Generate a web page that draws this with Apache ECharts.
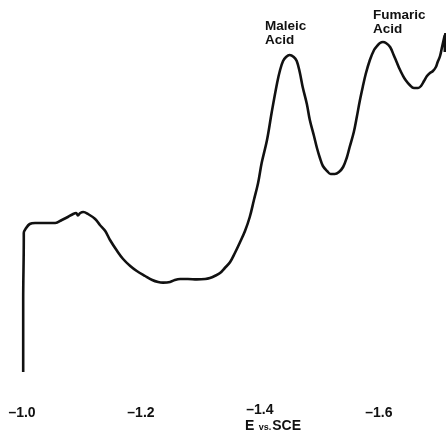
<!DOCTYPE html>
<html>
<head>
<meta charset="utf-8">
<script src="https://cdn.jsdelivr.net/npm/echarts@6/dist/echarts.min.js"></script>
<style>
  html, body { margin: 0; padding: 0; background: #fff; }
  #chart { width: 446px; height: 435px; }
</style>
</head>
<body>
<div id="chart"></div>
<script>
// Polarogram: current vs. electrode potential (V vs. SCE)
const potentials = [
  -1.002, -1.002, -1.003, -1.003, -1.007, -1.013, -1.022, -1.030, -1.044, -1.056,
  -1.067, -1.077, -1.086, -1.091, -1.094, -1.098, -1.103, -1.111, -1.123, -1.131,
  -1.140, -1.148, -1.160, -1.170, -1.182, -1.193, -1.207, -1.219, -1.229, -1.237,
  -1.249, -1.257, -1.266, -1.279, -1.294, -1.308, -1.316, -1.324, -1.333, -1.341,
  -1.350, -1.358, -1.366, -1.375, -1.383, -1.390, -1.397, -1.403, -1.412, -1.420,
  -1.429, -1.434, -1.439, -1.444, -1.450, -1.457, -1.462, -1.467, -1.472, -1.479,
  -1.484, -1.491, -1.496, -1.501, -1.506, -1.513, -1.519, -1.526, -1.533, -1.540,
  -1.546, -1.551, -1.558, -1.563, -1.568, -1.573, -1.578, -1.585, -1.592, -1.597,
  -1.602, -1.607, -1.612, -1.619, -1.625, -1.630, -1.635, -1.640, -1.645, -1.652,
  -1.659, -1.666, -1.671, -1.676, -1.681, -1.686, -1.691, -1.696, -1.699, -1.703,
  -1.706, -1.709, -1.711, -1.711, -1.712
];
const currents = [
   8.25, 26.25, 41.25, 43.00, 44.25, 45.25, 45.50, 45.50, 45.50, 45.50,
  46.25, 47.00, 47.75, 48.00, 47.40, 48.00, 48.25, 47.75, 46.50, 45.00,
  43.50, 41.25, 38.50, 36.50, 34.75, 33.50, 32.25, 31.25, 30.75, 30.60,
  30.75, 31.25, 31.50, 31.50, 31.40, 31.50, 31.75, 32.25, 33.00, 34.25,
  35.75, 38.00, 40.50, 43.50, 47.00, 51.25, 55.50, 60.50, 66.25, 73.25,
  80.50, 83.75, 86.00, 87.00, 87.50, 87.00, 86.00, 83.25, 79.50, 75.25,
  71.25, 67.25, 64.25, 61.75, 59.75, 58.50, 57.75, 57.75, 58.25, 59.50,
  61.75, 64.50, 68.25, 72.00, 76.00, 79.50, 82.75, 86.25, 88.75, 89.75,
  90.50, 90.75, 90.50, 89.50, 87.50, 85.75, 84.00, 82.50, 81.25, 80.00,
  79.25, 79.25, 79.75, 81.00, 82.25, 83.00, 83.50, 84.50, 85.75, 87.25,
  89.25, 91.25, 92.50, 88.25, 93.00
];
const tickPotentials = [-1.0, -1.2, -1.4, -1.6];
const peakNames = ['Maleic\nAcid', 'Fumaric\nAcid'];

const curve = potentials.map((e, i) => [e, currents[i]]);

const chart = echarts.init(document.getElementById('chart'), null, { renderer: 'canvas' });
const labelFont = '"Liberation Sans", Arial, Helvetica, sans-serif';
const tickStyle = { fontFamily: labelFont, fontWeight: 'bold', fontSize: 14, color: '#111' };

chart.setOption({
  backgroundColor: '#ffffff',
  animation: false,
  grid: { left: 0, right: 0, top: 5, bottom: 30 },
  xAxis: {
    type: 'value',
    inverse: true,
    min: -1.713,
    max: -0.963,
    axisLine: { show: false },
    axisTick: { show: false },
    splitLine: { show: false },
    axisLabel: {
      customValues: tickPotentials,
      margin: -3,
      formatter: v => {
        const txt = '\u2013' + Math.abs(v).toFixed(1);
        // the -1.4 label sits a little higher, right above the axis title
        return Math.abs(v + 1.4) < 1e-6 ? '{hi|' + txt + '}' : '{lo|' + txt + '}';
      },
      rich: {
        hi: Object.assign({ padding: [1, 0, 0, 0] }, tickStyle),
        lo: Object.assign({ padding: [4, 0, 0, 0] }, tickStyle)
      }
    }
  },
  yAxis: {
    type: 'value',
    min: 0,
    max: 100,
    show: false
  },
  series: [{
    type: 'line',
    data: curve,
    showSymbol: false,
    smooth: 0.35,
    lineStyle: { color: '#111', width: 2.6 },
    z: 3
  }],
  graphic: [
    {
      type: 'text', left: 265, top: 19,
      style: { text: peakNames[0], font: 'bold 13.5px ' + labelFont, fill: '#111', lineHeight: 14 }
    },
    {
      type: 'text', left: 373, top: 8,
      style: { text: peakNames[1], font: 'bold 13.5px ' + labelFont, fill: '#111', lineHeight: 14 }
    },
    {
      type: 'text', left: 245, top: 419,
      style: {
        text: '{big|E} {small|vs.}{big|SCE}',
        rich: {
          big: { font: 'bold 14px ' + labelFont, fill: '#111' },
          small: { font: 'bold 9px ' + labelFont, fill: '#111', padding: [3, 1, 0, 1] }
        }
      }
    }
  ]
});
</script>
</body>
</html>
